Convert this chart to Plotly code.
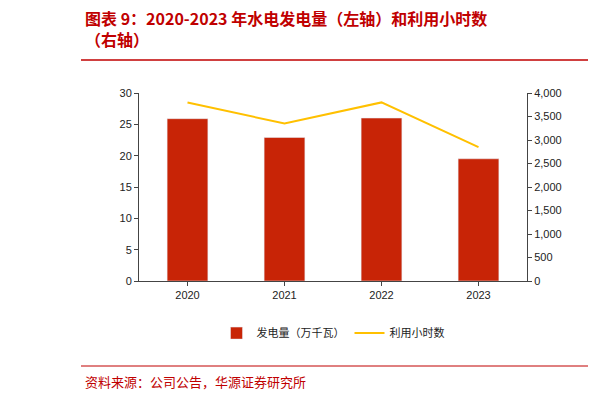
import plotly.graph_objects as go

years = ["2020", "2021", "2022", "2023"]
generation = [25.9, 22.9, 26.0, 19.5]
hours = [3800, 3350, 3800, 2850]

W, H = 614, 401
RED = "#C00000"
FONT = "Noto Sans CJK SC"
PW, PH = 388, 188
PL, PT = 131, 93


def px(x):
    return (x - PL) / PW


def py(y):
    return (PT + PH - y) / PH


fig = go.Figure()
fig.add_trace(go.Bar(x=years, y=generation, name="发电量（万千瓦）",
                     marker=dict(color="#C82406"), width=0.42, yaxis="y"))
fig.add_trace(go.Scatter(x=years, y=hours, name="利用小时数", mode="lines",
                         line=dict(color="#FFC000", width=2), yaxis="y2"))

tickfont = dict(family="Arial", size=11, color="#222")
fig.update_layout(
    width=W, height=H, plot_bgcolor="white", paper_bgcolor="white",
    margin=dict(l=131, r=95, t=85, b=128, autoexpand=False),
    font=dict(family=FONT),
    xaxis=dict(showline=True, linecolor="#444", ticks="outside", tickcolor="#444",
               ticklen=4, tickfont=tickfont),
    yaxis=dict(range=[0, 30], dtick=5, showgrid=False, showline=True, linecolor="#444",
               ticks="outside", tickcolor="#444", ticklen=4, tickfont=tickfont, zeroline=False),
    yaxis2=dict(range=[0, 4000], dtick=500, overlaying="y", side="right", showgrid=False,
                showline=True, linecolor="#444", ticks="outside", tickcolor="#444", ticklen=4,
                tickformat=",", tickfont=tickfont, zeroline=False),
    legend=dict(orientation="h", x=0.5, xanchor="center", y=-0.2, yanchor="top",
                font=dict(family=FONT, size=11, color="#222")),
    bargap=0.5,
)

fig.add_annotation(xref="paper", yref="paper", x=px(75), y=py(4), xanchor="left",
                   yanchor="top", align="left", showarrow=False,
                   text="<b>图表 9：2020-2023 年水电发电量（左轴）和利用小时数<br>（右轴）</b>",
                   font=dict(family=FONT, size=16, color=RED))
fig.add_annotation(xref="paper", yref="paper", x=px(75), y=py(370),
                   xanchor="left", yanchor="top", showarrow=False,
                   text="资料来源：公司公告，华源证券研究所",
                   font=dict(family=FONT, size=13, color=RED))
fig.add_shape(type="line", xref="paper", yref="paper", x0=px(73), x1=px(580),
              y0=py(60), y1=py(60), line=dict(color=RED, width=1.5))
fig.add_shape(type="line", xref="paper", yref="paper", x0=px(73), x1=px(580),
              y0=py(366), y1=py(366), line=dict(color=RED, width=1))

fig.write_html("out.html")
